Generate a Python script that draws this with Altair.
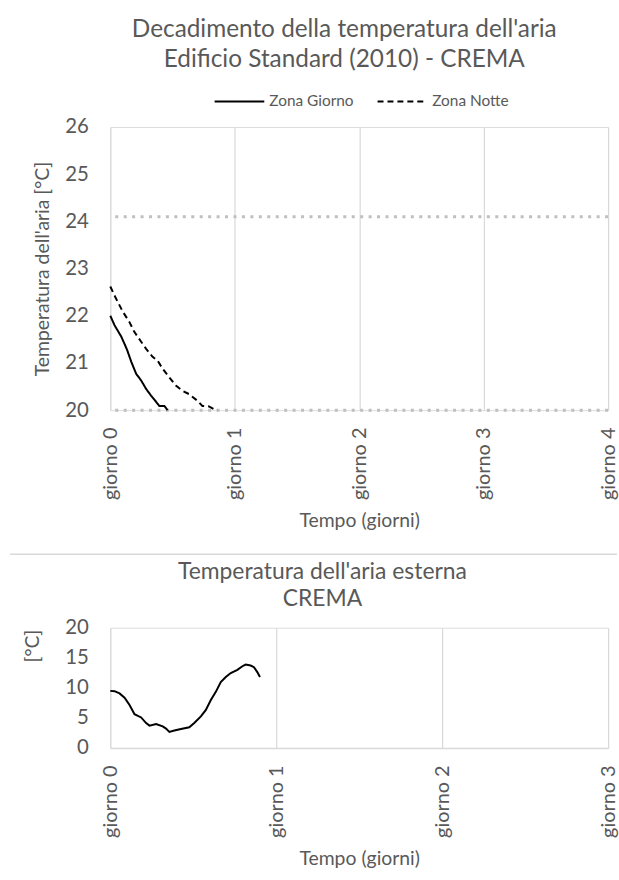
import altair as alt
import pandas as pd

# Indoor air temperature decay (days, °C)
giorno_days = [0.0, 0.034, 0.088, 0.12, 0.136, 0.168, 0.208, 0.248, 0.288, 0.327, 0.367, 0.394, 0.434, 0.461]
giorno_temp = [22.0, 21.8, 21.56, 21.37, 21.27, 21.03, 20.77, 20.63, 20.45, 20.31, 20.18, 20.09, 20.09, 20.0]

notte_days = [0.0, 0.045, 0.10, 0.153, 0.193, 0.248, 0.288, 0.34, 0.38, 0.42, 0.473, 0.527, 0.58, 0.633, 0.70, 0.74, 0.793, 0.833, 0.86]
notte_temp = [22.62, 22.37, 22.09, 21.87, 21.66, 21.45, 21.30, 21.13, 21.05, 20.88, 20.70, 20.52, 20.41, 20.34, 20.20, 20.09, 20.08, 20.02, 20.0]

# Reference limits
soglie = [20.0, 24.1]

# Outdoor air temperature
est_days = [0.0, 0.026, 0.056, 0.086, 0.116, 0.146, 0.186, 0.216, 0.236, 0.276, 0.316, 0.336, 0.356, 0.386,
            0.426, 0.476, 0.506, 0.546, 0.576, 0.606, 0.636, 0.666, 0.696, 0.726, 0.766, 0.796, 0.816, 0.846,
            0.866, 0.886, 0.902]
est_temp = [9.5, 9.45, 9.07, 8.36, 7.16, 5.63, 5.08, 4.15, 3.72, 3.99, 3.6, 3.23, 2.68, 2.9,
            3.17, 3.44, 4.15, 5.25, 6.34, 7.98, 9.34, 10.98, 11.8, 12.46, 13.0, 13.6, 13.88, 13.72,
            13.44, 12.62, 11.8]

serie = ["Zona Giorno", "Zona Notte"]

FONT = "Lato"
TXT = "#595959"
GRID = "#d9d9d9"

interno = pd.concat([
    pd.DataFrame({"giorni": giorno_days, "temp": giorno_temp, "zona": serie[0]}),
    pd.DataFrame({"giorni": notte_days, "temp": notte_temp, "zona": serie[1]}),
])
soglie_df = pd.DataFrame({"t": soglie})
esterno = pd.DataFrame({"giorni": est_days, "temp": est_temp})


def x_axis(values, domain):
    return alt.Axis(
        values=values, labelExpr="'giorno ' + datum.value", labelAngle=270,
        labelFontSize=20, labelColor=TXT, labelFont=FONT, labelPadding=17,
        title="Tempo (giorni)", titleFontSize=19.5, titleColor=TXT, titleFont=FONT,
        titleFontWeight="normal", titlePadding=12,
        grid=True, gridColor=GRID, gridWidth=1.2, ticks=False,
        domain=domain, domainColor=GRID, domainWidth=1.5,
    )


def y_axis(values, title, pad, **kw):
    return alt.Axis(values=values, grid=False, domain=False, ticks=False, labelOverlap=False,
                    labelFontSize=20.5, labelColor=TXT, labelFont=FONT, labelPadding=22,
                    title=title, titleFontSize=19.5, titleColor=TXT, titleFont=FONT,
                    titleFontWeight="normal", titlePadding=pad, **kw)


x_top = alt.X("giorni:Q", scale=alt.Scale(domain=[0, 4], nice=False), axis=x_axis([0, 1, 2, 3, 4], False))
y_top = alt.Y("temp:Q", scale=alt.Scale(domain=[20, 26], nice=False),
              axis=y_axis([20, 21, 22, 23, 24, 25, 26], "Temperatura dell'aria [°C]", 12))

limiti = alt.Chart(soglie_df).mark_rule(color="#bfbfbf", strokeWidth=3, strokeDash=[3, 5.5]).encode(
    y=alt.Y("t:Q", scale=alt.Scale(domain=[20, 26], nice=False))
)

linee = alt.Chart(interno).mark_line(color="black", strokeWidth=2).encode(
    x=x_top, y=y_top,
    strokeDash=alt.StrokeDash(
        "zona:N",
        scale=alt.Scale(domain=serie, range=[[1, 0], [6, 4]]),
        legend=alt.Legend(
            title=None, orient="none", direction="horizontal", legendX=104, legendY=-52,
            symbolType="stroke", symbolSize=2500, symbolStrokeWidth=2, symbolStrokeColor="black",
            labelFontSize=15.5, labelColor=TXT, labelFont=FONT, labelOffset=4, columnPadding=20,
        ),
    ),
)

# thin divider between the two panels
separatore = alt.Chart(pd.DataFrame({"k": [0]})).mark_rule(color=GRID, strokeWidth=1.5).encode(
    x=alt.value(-101), x2=alt.value(510), y=alt.value(430)
)

top = alt.layer(limiti, linee, separatore).properties(
    width=501, height=285,
    title=alt.TitleParams(
        text=["Decadimento della temperatura dell'aria", "Edificio Standard (2010) - CREMA"],
        fontSize=24.5, color=TXT, font=FONT, fontWeight="normal", lineHeight=30, offset=45,
        anchor="middle", frame="group", dx=-15,
    ),
)

bottom = alt.Chart(esterno).mark_line(color="black", strokeWidth=2).encode(
    x=alt.X("giorni:Q", scale=alt.Scale(domain=[0, 3], nice=False), axis=x_axis([0, 1, 2, 3], True)),
    y=alt.Y("temp:Q", scale=alt.Scale(domain=[0, 20], nice=False),
            axis=y_axis([0, 5, 10, 15, 20], "[°C]", 22, titleY=18)),
).properties(
    width=501, height=121,
    title=alt.TitleParams(
        text=["Temperatura dell'aria esterna", "CREMA"],
        fontSize=23, color=TXT, font=FONT, fontWeight="normal", lineHeight=27, offset=7,
        anchor="middle", frame="group", dx=-37,
    ),
)

chart = alt.vconcat(top, bottom, spacing=4).configure_view(stroke=None).configure(
    background="white", padding={"left": 8, "top": 14, "right": 0, "bottom": 0}
)

chart.save("out.html", embed_options={"renderer": "svg", "actions": False})
